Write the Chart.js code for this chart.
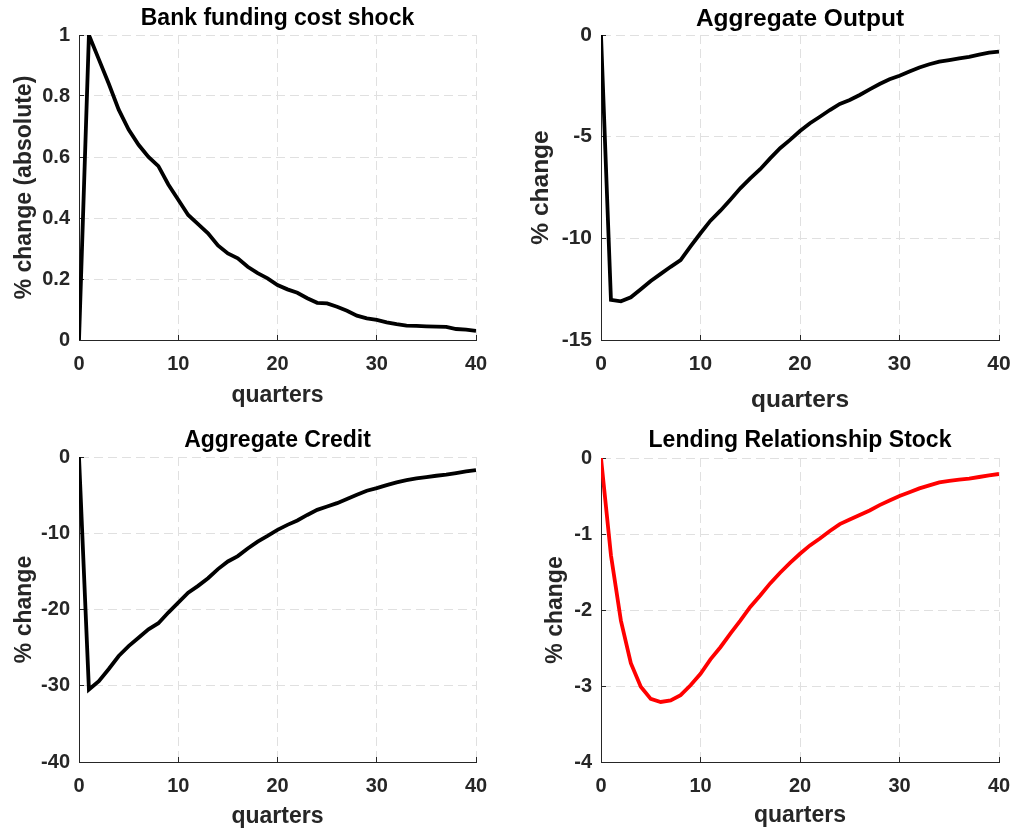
<!DOCTYPE html>
<html>
<head>
<meta charset="utf-8">
<script src="https://cdn.jsdelivr.net/npm/chart.js@4.4.1/dist/chart.umd.min.js"></script>
<style>
  html, body { margin: 0; padding: 0; background: #fff; overflow: hidden; }
  .panel { position: absolute; }
</style>
</head>
<body>
<div class="panel" style="left:0;top:0"><canvas id="bank" width="508" height="415"></canvas></div>
<div class="panel" style="left:508px;top:0"><canvas id="output" width="508" height="415"></canvas></div>
<div class="panel" style="left:0;top:415px"><canvas id="credit" width="508" height="416"></canvas></div>
<div class="panel" style="left:508px;top:415px"><canvas id="lrs" width="508" height="416"></canvas></div>
<script>
const quarters = [0, 1, 2, 3, 4, 5, 6, 7, 8, 9, 10, 11, 12, 13, 14, 15, 16, 17, 18, 19, 20,
  21, 22, 23, 24, 25, 26, 27, 28, 29, 30, 31, 32, 33, 34, 35, 36, 37, 38, 39, 40]

const bankShock = [0, 1.0, 0.92, 0.84, 0.755, 0.69, 0.64, 0.60, 0.57, 0.51, 0.46, 0.41, 0.38, 0.35,
  0.31, 0.284, 0.268, 0.24, 0.219, 0.202, 0.18, 0.166, 0.155, 0.137, 0.122, 0.12, 0.109, 0.096,
  0.08, 0.071, 0.066, 0.058, 0.052, 0.047, 0.046, 0.045, 0.044, 0.043, 0.036, 0.034, 0.030]

const aggOutput = [0, -13.03, -13.1, -12.9, -12.5, -12.1, -11.75, -11.4, -11.07, -10.4, -9.75,
  -9.13, -8.64, -8.1, -7.54, -7.05, -6.6, -6.07, -5.57, -5.16, -4.72, -4.34, -4.02, -3.69, -3.39,
  -3.2, -2.95, -2.67, -2.41, -2.18, -2.0, -1.8, -1.6, -1.44, -1.31, -1.23, -1.15, -1.07, -0.97, -0.87, -0.82]

const aggCredit = [0, -30.5, -29.4, -27.8, -26.1, -24.8, -23.7, -22.6, -21.8, -20.4, -19.1, -17.8,
  -16.9, -15.9, -14.7, -13.7, -13.0, -12.0, -11.1, -10.35, -9.56, -8.9, -8.33, -7.6, -6.93, -6.5,
  -6.05, -5.5, -4.96, -4.43, -4.08, -3.68, -3.33, -3.03, -2.8, -2.63, -2.46, -2.32, -2.1, -1.89, -1.71]

const relStock = [0, -1.28, -2.14, -2.7, -3.01, -3.17, -3.21, -3.19, -3.12, -2.99, -2.84, -2.65,
  -2.49, -2.31, -2.14, -1.96, -1.81, -1.65, -1.51, -1.38, -1.26, -1.15, -1.06, -0.96, -0.87, -0.81,
  -0.75, -0.69, -0.62, -0.56, -0.5, -0.45, -0.4, -0.36, -0.32, -0.3, -0.285, -0.27, -0.25, -0.23, -0.21]

const FONT = "'Liberation Sans', Arial, Helvetica, sans-serif"
const AXIS_COLOR = '#262626'
const GRID_COLOR = '#e0e0e0'
const TICK_IN = 5 // matlab style ticks point into the plot

function makePanel(id, values, color, o) {
  const points = quarters.map((q, i) => ({ x: q, y: values[i] }))
  const gridStyle = {
    color: GRID_COLOR, lineWidth: 1,
    drawTicks: true, tickLength: -TICK_IN, tickColor: AXIS_COLOR, tickWidth: 1
  }
  const borderStyle = { display: true, color: AXIS_COLOR, width: 1, dash: [9, 5] }
  const tickFont = { family: FONT, size: o.tickSize, weight: 'bold' }
  const labelFont = { family: FONT, size: o.labelSize, weight: 'bold' }

  return new Chart(document.getElementById(id), {
    type: 'line',
    data: {
      datasets: [{
        data: points,
        borderColor: color,
        borderWidth: 3.8,
        pointRadius: 0,
        tension: 0,
        fill: false
      }]
    },
    options: {
      responsive: false,
      animation: false,
      layout: { padding: { left: 0, top: 0, right: o.padRight, bottom: 0 } },
      plugins: {
        legend: { display: false },
        tooltip: { enabled: false },
        title: {
          display: true,
          text: o.title,
          fullSize: false,
          color: '#000',
          font: { family: FONT, size: o.titleSize, weight: 'bold' },
          padding: { top: o.titlePad[0], bottom: o.titlePad[1] }
        }
      },
      scales: {
        x: {
          type: 'linear',
          min: 0,
          max: 40,
          ticks: { stepSize: 10, padding: 12 + TICK_IN, color: AXIS_COLOR, font: tickFont },
          grid: gridStyle,
          border: borderStyle,
          title: {
            display: true,
            text: 'quarters',
            color: AXIS_COLOR,
            font: labelFont,
            padding: { top: 0, bottom: o.xTitlePad }
          },
          afterFit: s => {
            s.height = o.xHeight
            // the plot box is fixed by the layout padding, not by the edge labels
            s.paddingLeft = 0
            s.paddingRight = 0
          }
        },
        y: {
          min: o.yMin,
          max: o.yMax,
          ticks: {
            stepSize: o.yStep, padding: 9 + TICK_IN, color: AXIS_COLOR, font: tickFont,
            callback: v => String(+v.toFixed(2))
          },
          grid: gridStyle,
          border: borderStyle,
          title: {
            display: true,
            text: o.yLabel,
            color: AXIS_COLOR,
            font: labelFont,
            padding: { top: o.yTitlePad, bottom: 0 }
          },
          afterFit: s => { s.width = o.yWidth }
        }
      }
    }
  })
}

makePanel('bank', bankShock, '#000', {
  title: 'Bank funding cost shock', yLabel: '% change (absolute)',
  yMin: 0, yMax: 1, yStep: 0.2,
  padRight: 32, yWidth: 79, xHeight: 75,
  titleSize: 23, tickSize: 20, labelSize: 23,
  titlePad: [5, 2.4], xTitlePad: 5.8, yTitlePad: 10.8
})

makePanel('output', aggOutput, '#000', {
  title: 'Aggregate Output', yLabel: '% change',
  yMin: -15, yMax: 0, yStep: 5,
  padRight: 17, yWidth: 93, xHeight: 75,
  titleSize: 24.5, tickSize: 21, labelSize: 24.5,
  titlePad: [5, 0.6], xTitlePad: 0, yTitlePad: 19
})

makePanel('credit', aggCredit, '#000', {
  title: 'Aggregate Credit', yLabel: '% change',
  yMin: -40, yMax: 0, yStep: 10,
  padRight: 32, yWidth: 79, xHeight: 69,
  titleSize: 23, tickSize: 20, labelSize: 23,
  titlePad: [12.2, 2.2], xTitlePad: 1, yTitlePad: 10.8
})

makePanel('lrs', relStock, '#ff0000', {
  title: 'Lending Relationship Stock', yLabel: '% change',
  yMin: -4, yMax: 0, yStep: 1,
  padRight: 17, yWidth: 93, xHeight: 69,
  titleSize: 23, tickSize: 20, labelSize: 23,
  titlePad: [12.2, 3.2], xTitlePad: 1.5, yTitlePad: 34
})
</script>
</body>
</html>
